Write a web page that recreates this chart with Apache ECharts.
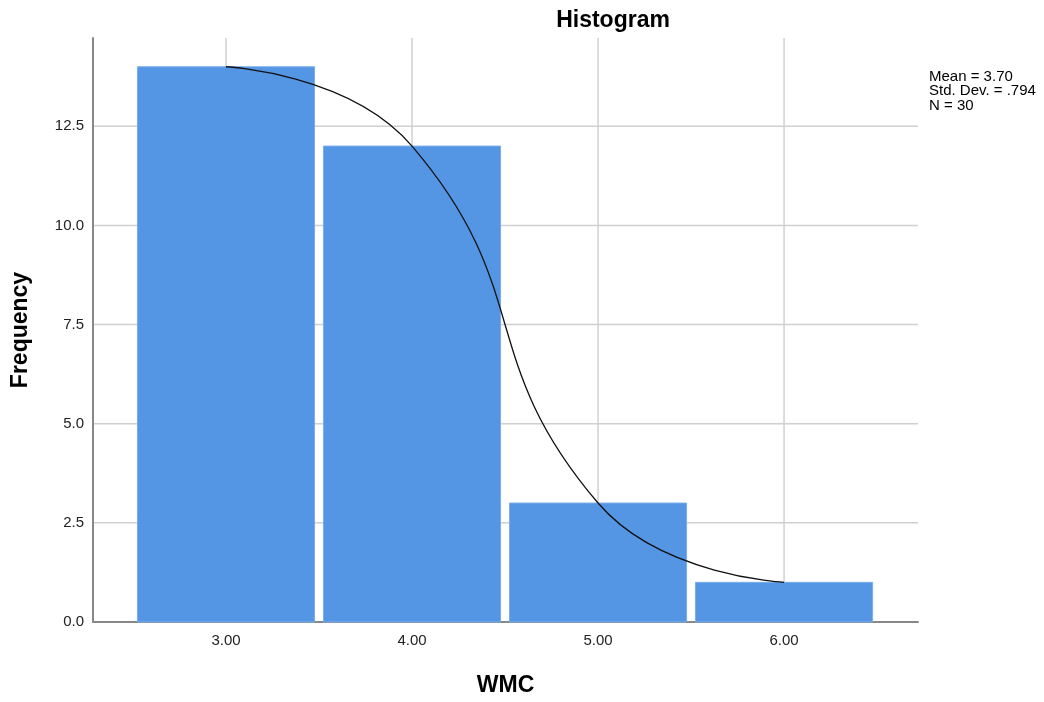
<!DOCTYPE html>
<html><head><meta charset="utf-8">
<script src="https://cdn.jsdelivr.net/npm/echarts@6/dist/echarts.min.js"></script>
<style>html,body{margin:0;padding:0;background:#fff}#c{width:1044px;height:702px}</style>
</head><body><div id="c"></div>
<script>
const binCenters = [3, 4, 5, 6];
const frequencies = [14, 12, 3, 1];
const xTickValues = [3, 4, 5, 6];
const yTickValues = [0, 2.5, 5, 7.5, 10, 12.5];
const statsLines = ['Mean = 3.70', 'Std. Dev. = .794', 'N = 30'];

const chart = echarts.init(document.getElementById('c'));
const FONT = '"Liberation Sans", Arial, sans-serif';
const barData = binCenters.map((x, i) => [x, frequencies[i]]);
const GRID_COLOR = '#d0d0d0';
const X_MIN = 2.285, X_MAX = 6.72, Y_MAX = 14.725;

chart.setOption({
  animation: false,
  backgroundColor: '#fff',
  title: {
    text: 'Histogram', left: 608, top: 4, textAlign: 'center',
    textStyle: {fontFamily: FONT, fontSize: 23, fontWeight: 'bold', color: '#000'}
  },
  graphic: [{
    type: 'text', left: 929, top: 69,
    style: {text: statsLines.join('\n'), font: '15px ' + FONT, fill: '#000', lineHeight: 14.5}
  }],
  grid: {left: 93, right: 126, top: 38, bottom: 74},
  xAxis: {
    type: 'value', min: X_MIN, max: X_MAX,
    name: 'WMC', nameLocation: 'middle', nameGap: 52,
    nameTextStyle: {fontFamily: FONT, fontSize: 23, fontWeight: 'bold', color: '#000'},
    axisLine: {show: true, lineStyle: {color: '#888', width: 2}},
    axisTick: {show: false},
    splitLine: {show: false},
    axisLabel: {customValues: xTickValues, formatter: v => v.toFixed(2), fontFamily: FONT, fontSize: 15, color: '#222', margin: 11}
  },
  yAxis: {
    type: 'value', min: 0, max: Y_MAX,
    name: 'Frequency', nameLocation: 'middle', nameGap: 61, nameRotate: 90,
    nameTextStyle: {fontFamily: FONT, fontSize: 23, fontWeight: 'bold', color: '#000'},
    axisLine: {show: true, lineStyle: {color: '#888', width: 2}},
    axisTick: {show: false},
    splitLine: {show: false},
    axisLabel: {customValues: yTickValues, formatter: v => v.toFixed(1), fontFamily: FONT, fontSize: 15, color: '#222', margin: 9}
  },
  series: [
    {
      type: 'custom', z: 0, silent: true,
      data: yTickValues.filter(v => v > 0).map(v => [0, v]).concat(xTickValues.map(v => [1, v])),
      renderItem: (params, api) => {
        const kind = api.value(0), v = api.value(1);
        let a, b;
        if (kind === 0) { a = api.coord([X_MIN, v]); b = api.coord([X_MAX, v]); }
        else { a = api.coord([v, 0]); b = api.coord([v, Y_MAX]); }
        return {type: 'line', shape: {x1: a[0], y1: a[1], x2: b[0], y2: b[1]},
          style: {stroke: GRID_COLOR, lineWidth: 1.5}};
      }
    },
    {
      type: 'custom', data: barData, z: 2,
      renderItem: (params, api) => {
        const x = api.value(0), y = api.value(1);
        const p0 = api.coord([x - 0.476, y]);
        const p1 = api.coord([x + 0.476, 0]);
        return {type: 'rect', shape: {x: p0[0], y: p0[1], width: p1[0] - p0[0], height: p1[1] - p0[1]},
          style: {fill: '#5596e4', stroke: '#7aaeea', lineWidth: 1}};
      }
    },
    {
      type: 'line', data: barData, smooth: 0.5, symbol: 'none', z: 3,
      lineStyle: {color: '#111', width: 1.3}
    }
  ]
});
</script></body></html>
